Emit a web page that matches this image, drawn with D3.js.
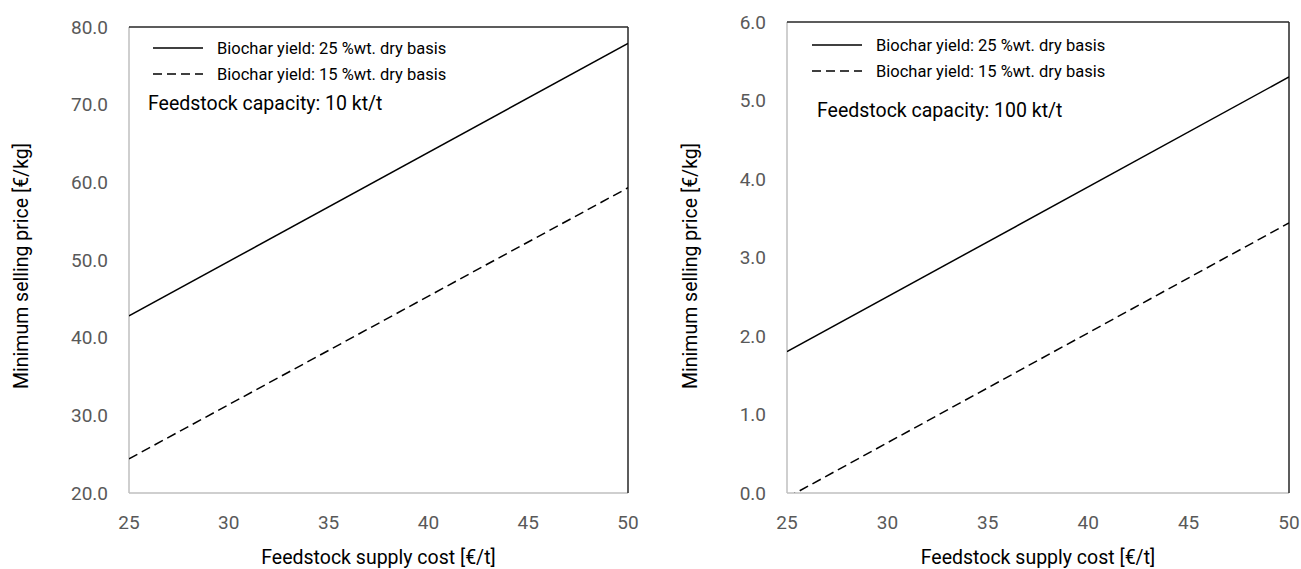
<!doctype html>
<html lang="en">
  <head>
    <meta charset="UTF-8" />
    <title>Minimum selling price vs feedstock cost</title>
    <style>
      body {
        margin: 0;
        background: #fff;
        font-family: Roboto, "Open Sans", sans-serif;
      }
      svg {
        display: block;
      }
    </style>
  </head>
  <body>
    <svg id="chart" width="1301" height="569"></svg>

    <script src="https://d3js.org/d3.v7.min.js"></script>
    <script>
      // feedstock supply cost [€/t]
      const supplyCost = [25, 50];
      const xTicks = [25, 30, 35, 40, 45, 50];

      // 10 kt/t plant
      const small25 = [42.8, 77.9];
      const small15 = [24.4, 59.3];
      const smallTicks = [20, 30, 40, 50, 60, 70, 80];

      // 100 kt/t plant
      const large25 = [1.8, 5.3];
      const large15 = [-0.06, 3.44];
      const largeTicks = [0, 1, 2, 3, 4, 5, 6];

      const seriesNames = [
        "Biochar yield: 25 %wt. dry basis",
        "Biochar yield: 15 %wt. dry basis",
      ];

      const panels = [
        {
          id: "a",
          left: 129, right: 628, top: 27, bottom: 493,
          ticks: smallTicks, series: [small25, small15],
          note: "Feedstock capacity: 10 kt/t",
          legendX: 153, legendY: 48, noteX: 148, noteY: 110,
          yTitleX: 21,
        },
        {
          id: "b",
          left: 787, right: 1289, top: 22, bottom: 493,
          ticks: largeTicks, series: [large25, large15],
          note: "Feedstock capacity: 100 kt/t",
          legendX: 812, legendY: 45, noteX: 817, noteY: 117,
          yTitleX: 690,
        },
      ];

      const svg = d3.select("#chart");
      const dashes = [null, "9.5,5"];

      panels.forEach((p) => {
        const x = d3.scaleLinear().domain([25, 50]).range([p.left, p.right]);
        const y = d3
          .scaleLinear()
          .domain(d3.extent(p.ticks))
          .range([p.bottom, p.top]);

        const g = svg.append("g");

        g.append("clipPath")
          .attr("id", "clip-" + p.id)
          .append("rect")
          .attr("x", p.left)
          .attr("y", p.top)
          .attr("width", p.right - p.left)
          .attr("height", p.bottom - p.top);

        // y tick labels
        g.append("g")
          .selectAll("text")
          .data(p.ticks)
          .join("text")
          .attr("x", p.left - 21)
          .attr("y", (d) => y(d))
          .attr("dy", "0.35em")
          .attr("text-anchor", "end")
          .attr("font-size", 19)
          .attr("fill", "#595959")
          .text((d) => d.toFixed(1));

        // x tick labels
        g.append("g")
          .selectAll("text")
          .data(xTicks)
          .join("text")
          .attr("x", (d) => x(d))
          .attr("y", p.bottom + 29)
          .attr("dy", "0.35em")
          .attr("text-anchor", "middle")
          .attr("font-size", 19)
          .attr("fill", "#595959")
          .text((d) => d);

        // frame: light left/bottom, dark top/right
        g.append("line")
          .attr("x1", p.left).attr("x2", p.left)
          .attr("y1", p.top).attr("y2", p.bottom)
          .attr("stroke", "#bfbfbf").attr("stroke-width", 1.5);
        g.append("line")
          .attr("x1", p.left).attr("x2", p.right)
          .attr("y1", p.bottom).attr("y2", p.bottom)
          .attr("stroke", "#bfbfbf").attr("stroke-width", 1.5);
        g.append("line")
          .attr("x1", p.left).attr("x2", p.right)
          .attr("y1", p.top).attr("y2", p.top)
          .attr("stroke", "#262626").attr("stroke-width", 1.5);
        g.append("line")
          .attr("x1", p.right).attr("x2", p.right)
          .attr("y1", p.top).attr("y2", p.bottom)
          .attr("stroke", "#262626").attr("stroke-width", 1.5);

        const line = d3
          .line()
          .x((d, i) => x(supplyCost[i]))
          .y((d) => y(d));

        g.append("g")
          .attr("clip-path", `url(#clip-${p.id})`)
          .selectAll("path")
          .data(p.series)
          .join("path")
          .attr("d", line)
          .attr("fill", "none")
          .attr("stroke", "#000")
          .attr("stroke-width", 1.5)
          .attr("stroke-dasharray", (d, i) => dashes[i]);

        // legend
        const leg = g
          .append("g")
          .selectAll("g")
          .data(seriesNames)
          .join("g")
          .attr("transform", (d, i) => `translate(${p.legendX},${p.legendY + i * 26})`);
        leg.append("line")
          .attr("x1", 0).attr("x2", 50)
          .attr("stroke", "#000").attr("stroke-width", 1.5)
          .attr("stroke-dasharray", (d, i) => (i ? "9,5" : null));
        leg.append("text")
          .attr("x", 64)
          .attr("dy", "0.35em")
          .attr("font-size", 16.5)
          .attr("fill", "#000")
          .text((d) => d);

        g.append("text")
          .attr("x", p.noteX)
          .attr("y", p.noteY)
          .attr("font-size", 19.5)
          .attr("fill", "#000")
          .text(p.note);

        // axis titles
        g.append("text")
          .attr("x", (p.left + p.right) / 2)
          .attr("y", p.bottom + 64)
          .attr("dy", "0.35em")
          .attr("text-anchor", "middle")
          .attr("font-size", 19.5)
          .attr("fill", "#000")
          .text("Feedstock supply cost [€/t]");

        g.append("text")
          .attr("transform", `translate(${p.yTitleX},266) rotate(-90)`)
          .attr("dy", "0.35em")
          .attr("text-anchor", "middle")
          .attr("font-size", 19.5)
          .attr("fill", "#000")
          .text("Minimum selling price [€/kg]");
      });
    </script>
  </body>
</html>
